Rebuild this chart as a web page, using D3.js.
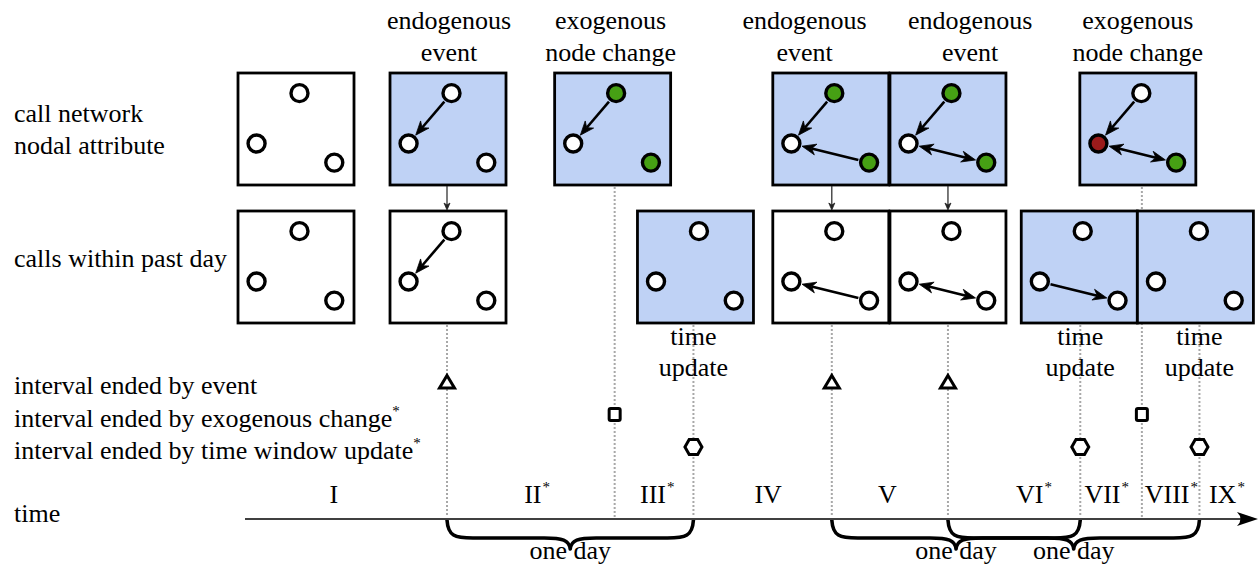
<!DOCTYPE html>
<html><head><meta charset="utf-8">
<script src="https://cdn.jsdelivr.net/npm/d3@7"></script>
<style>
html,body{margin:0;padding:0;background:#fff;}
svg{display:block;}
text{font-family:"Liberation Serif","Times New Roman",serif;fill:#000;}
</style>
</head><body>
<svg id="chart" width="1259" height="567"></svg>
<script>
// ---------------- data ----------------
const eventTimes = [20, 36.6, 44.4, 58.1, 69.6, 82.7, 88.8, 94.5];
const eventTypes = ["event", "exogenous", "update", "event", "event", "update", "exogenous", "update"];

const legendTypes = ["event", "exogenous", "update"];
const legendLabels = ["interval ended by event", "interval ended by exogenous change", "interval ended by time window update"];
const legendStar = [false, true, true];

const rowLabelsTop = ["call network", "nodal attribute"];
const rowLabelsBottom = ["calls within past day"];
const axisLabel = "time";

const intervalLabels = ["I", "II", "III", "IV", "V", "VI", "VII", "VIII", "IX"];
const intervalStar = [false, true, true, false, false, true, true, true, true];
const intervalLabelTimes = [8.8, 28.5, 40.4, 51.8, 63.6, 77.7, 84.9, 91.3, 96.8];

const braceSpans = [[20, 44.4], [58.1, 82.7], [69.6, 94.5]];
const braceLabel = "one day";

const nodeIds = ["A", "B", "C"];
const nodeU = [0.53, 0.16, 0.83];   // normalized layout inside a snapshot
const nodeV = [0.18, 0.63, 0.80];

const topPanelTimes = [5.05, 20.1, 36.4, 58.0, 69.6, 88.4];
const topPanelHighlight = [false, true, true, true, true, true];
const topPanelAttrs = [["w","w","w"], ["w","w","w"], ["g","w","g"], ["g","w","g"], ["g","w","g"], ["w","r","g"]];
const topPanelEdges = [[], [["A","B",0]], [["A","B",0]], [["A","B",0],["C","B",0]], [["A","B",0],["B","C",1]], [["A","B",0],["B","C",1]]];
const topCaptions = [["endogenous","event"], ["exogenous","node change"], ["endogenous","event"], ["endogenous","event"], ["exogenous","node change"]];
const topCaptionTimes = [20.2, 36.2, 55.4, 71.8, 88.4];

const bottomPanelTimes = [5.05, 20.1, 44.6, 58.0, 69.6, 82.6, 94.1];
const bottomPanelHighlight = [false, false, true, false, false, true, true];
const bottomPanelEdges = [[], [["A","B",0]], [], [["C","B",0]], [["B","C",1]], [["B","C",0]], []];
const updateCaption = ["time", "update"];

const attrColor = {w: "#ffffff", g: "#46a014", r: "#9b1b1b"};

// ---------------- layout ----------------
const svg = d3.select("#chart");
const x = d3.scaleLinear().domain([0, 100]).range([245, 1255]);
const PW = 116, PH = 112;
const topY = 73, botY = 211;
const axisY = 519;
const FS = 26;
const nx = d3.scaleLinear().domain([0, 1]).range([0, PW]);
const ny = d3.scaleLinear().domain([0, 1]).range([0, PH]);
const R = 8.5;
const legendY = d3.scalePoint().domain(legendTypes).range([382, 447]);

// ---------------- dotted guide lines ----------------
const guideStart = {event: botY + PH, exogenous: topY + PH, update: botY + PH};
svg.append("g").selectAll("line").data(eventTimes).join("line")
  .attr("x1", d => x(d)).attr("x2", d => x(d))
  .attr("y1", (d, i) => guideStart[eventTypes[i]] + 2)
  .attr("y2", axisY - 2)
  .attr("stroke", "#a8a8a8").attr("stroke-width", 2).attr("stroke-dasharray", "2,2");

// ---------------- helpers ----------------
function arrowHead(g, tx, ty, ux, uy, L, W, col) {
  const bx = tx - L * ux, by = ty - L * uy;
  const nxv = -uy, nyv = ux;
  const ix = tx - 0.7 * L * ux, iy = ty - 0.7 * L * uy;
  g.append("path")
    .attr("d", `M${tx},${ty}L${bx + W * nxv},${by + W * nyv}L${ix},${iy}L${bx - W * nxv},${by - W * nyv}Z`)
    .attr("fill", col).attr("stroke", col).attr("stroke-width", 0.8).attr("stroke-linejoin", "miter");
}

function drawPanel(g, cx, y0, fillBlue, attrs, edges) {
  const x0 = cx - PW / 2;
  g.append("rect").attr("x", x0).attr("y", y0).attr("width", PW).attr("height", PH)
    .attr("fill", fillBlue ? "#bfd2f5" : "#ffffff").attr("stroke", "#000").attr("stroke-width", 2.8);
  const pos = id => { const k = nodeIds.indexOf(id); return [x0 + nx(nodeU[k]), y0 + ny(nodeV[k])]; };
  edges.forEach(([s, t, bi]) => {
    const [sx, sy] = pos(s), [tx, ty] = pos(t);
    const dx = tx - sx, dy = ty - sy, len = Math.hypot(dx, dy);
    const ux = dx / len, uy = dy / len;
    const gap = R + 2.5, L = 14, W = 5.5;
    const ex = tx - gap * ux, ey = ty - gap * uy;
    const stx = sx + gap * ux, sty = sy + gap * uy;
    const lx1 = bi ? stx + 0.7 * L * ux : stx, ly1 = bi ? sty + 0.7 * L * uy : sty;
    g.append("line").attr("x1", lx1).attr("y1", ly1)
      .attr("x2", ex - 0.7 * L * ux).attr("y2", ey - 0.7 * L * uy)
      .attr("stroke", "#000").attr("stroke-width", 2.6);
    arrowHead(g, ex, ey, ux, uy, L, W, "#000");
    if (bi) arrowHead(g, stx, sty, -ux, -uy, L, W, "#000");
  });
  nodeIds.forEach((id, k) => {
    const [px, py] = pos(id);
    g.append("circle").attr("cx", px).attr("cy", py).attr("r", R)
      .attr("fill", attrColor[attrs ? attrs[k] : "w"]).attr("stroke", "#000").attr("stroke-width", 3.4);
  });
}

// ---------------- panels ----------------
const gTop = svg.append("g");
topPanelTimes.forEach((t, i) => drawPanel(gTop, x(t), topY, topPanelHighlight[i], topPanelAttrs[i], topPanelEdges[i]));
const gBot = svg.append("g");
bottomPanelTimes.forEach((t, i) => drawPanel(gBot, x(t), botY, bottomPanelHighlight[i], null, bottomPanelEdges[i]));

// connector arrows between rows (endogenous events)
const gConn = svg.append("g");
eventTimes.forEach((t, i) => {
  if (eventTypes[i] !== "event") return;
  const cx = x(t);
  gConn.append("line").attr("x1", cx).attr("x2", cx).attr("y1", topY + PH + 1).attr("y2", botY - 5)
    .attr("stroke", "#222").attr("stroke-width", 1.2);
  arrowHead(gConn, cx, botY - 1, 0, 1, 7, 3, "#222");
});

// captions
const gCap = svg.append("g").attr("font-size", FS).attr("text-anchor", "middle");
topCaptions.forEach((c, i) => {
  gCap.append("text").attr("x", x(topCaptionTimes[i])).attr("y", 29).text(c[0]);
  gCap.append("text").attr("x", x(topCaptionTimes[i])).attr("y", 61).text(c[1]);
});
eventTimes.forEach((t, i) => {
  if (eventTypes[i] !== "update") return;
  gCap.append("text").attr("x", x(t)).attr("y", 345).text(updateCaption[0]);
  gCap.append("text").attr("x", x(t)).attr("y", 376).text(updateCaption[1]);
});

// ---------------- row labels & legend ----------------
const gLab = svg.append("g").attr("font-size", FS);
rowLabelsTop.forEach((s, i) => gLab.append("text").attr("x", 14).attr("y", 122 + i * 32).text(s));
rowLabelsBottom.forEach((s) => gLab.append("text").attr("x", 14).attr("y", 267).text(s));
legendLabels.forEach((s, i) => {
  const tx = gLab.append("text").attr("x", 14).attr("y", legendY(legendTypes[i]) + 12).text(s);
  if (legendStar[i]) tx.append("tspan").attr("font-size", 15).attr("dy", -11).text("*");
});
gLab.append("text").attr("x", 14).attr("y", 522).text(axisLabel);

// ---------------- markers ----------------
const gMark = svg.append("g").attr("fill", "#fff").attr("stroke", "#000").attr("stroke-width", 3).attr("stroke-linejoin", "miter");
eventTimes.forEach((t, i) => {
  const cx = x(t), typ = eventTypes[i], cy = legendY(typ);
  if (typ === "event") {
    gMark.append("path").attr("d", `M${cx},${cy - 6.5}L${cx + 7.5},${cy + 6}L${cx - 7.5},${cy + 6}Z`);
  } else if (typ === "exogenous") {
    gMark.append("rect").attr("x", cx - 5.5).attr("y", cy - 6).attr("width", 11).attr("height", 12).attr("rx", 1.5);
  } else {
    const hx = 8.5, hy = 7.5;
    gMark.append("path").attr("d", `M${cx - hx},${cy}L${cx - hx / 2},${cy - hy}L${cx + hx / 2},${cy - hy}L${cx + hx},${cy}L${cx + hx / 2},${cy + hy}L${cx - hx / 2},${cy + hy}Z`);
  }
});

// ---------------- time axis ----------------
const gAx = svg.append("g");
const tipX = x(100) + 3;
gAx.append("line").attr("x1", x(0)).attr("x2", tipX - 10).attr("y1", axisY).attr("y2", axisY)
  .attr("stroke", "#000").attr("stroke-width", 1.6);
gAx.append("path")
  .attr("d", `M${tipX},${axisY}L${tipX - 21},${axisY - 7}Q${tipX - 14},${axisY} ${tipX - 21},${axisY + 7}Z`)
  .attr("fill", "#000");

// interval labels
const gInt = svg.append("g").attr("font-size", FS);
intervalLabels.forEach((s, i) => {
  const t = gInt.append("text").attr("x", x(intervalLabelTimes[i])).attr("y", 503).attr("text-anchor", "middle").text(s);
  if (intervalStar[i]) {
    const w = t.node().getComputedTextLength();
    gInt.append("text").attr("x", x(intervalLabelTimes[i]) + w / 2 + 1).attr("y", 492).attr("font-size", 15).text("*");
  }
});

// braces
function bracePath(x1, x2, y0) {
  const mid = (x1 + x2) / 2, h1 = 18, h2 = 29, r = 13;
  return `M${x1},${y0}C${x1 + 1},${y0 + h1 - 2} ${x1 + r * 0.6},${y0 + h1} ${x1 + 2 * r},${y0 + h1}` +
    `L${mid - 2 * r},${y0 + h1}C${mid - r * 0.6},${y0 + h1} ${mid - 1},${y0 + h1 + 2} ${mid},${y0 + h2}` +
    `C${mid + 1},${y0 + h1 + 2} ${mid + r * 0.6},${y0 + h1} ${mid + 2 * r},${y0 + h1}` +
    `L${x2 - 2 * r},${y0 + h1}C${x2 - r * 0.6},${y0 + h1} ${x2 - 1},${y0 + h1 - 2} ${x2},${y0}`;
}
const gBr = svg.append("g");
braceSpans.forEach(([a, b]) => {
  gBr.append("path").attr("d", bracePath(x(a), x(b), axisY + 1))
    .attr("fill", "none").attr("stroke", "#000").attr("stroke-width", 3.6).attr("stroke-linejoin", "round");
  gBr.append("text").attr("x", (x(a) + x(b)) / 2).attr("y", 559).attr("text-anchor", "middle")
    .attr("font-size", FS).text(braceLabel);
});
</script>
</body></html>
